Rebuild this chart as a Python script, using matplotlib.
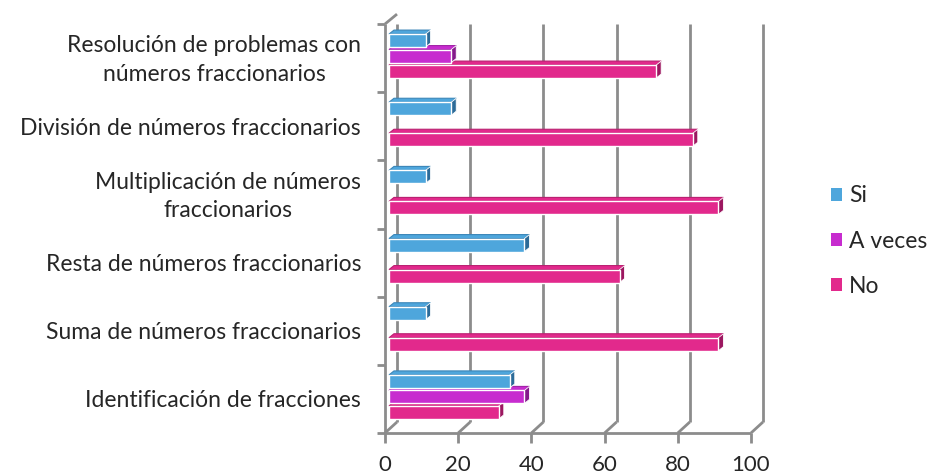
import matplotlib
matplotlib.use("Agg")
import matplotlib.pyplot as plt
from matplotlib.patches import Polygon, Rectangle, Patch

plt.rcParams['font.family'] = ['Lato', 'DejaVu Sans']

categorias = [
    "Identificación de fracciones",
    "Suma de números fraccionarios",
    "Resta de números fraccionarios",
    "Multiplicación de números\nfraccionarios",
    "División de números fraccionarios",
    "Resolución de problemas con\nnúmeros fraccionarios",
]
si = [33, 10, 37, 10, 17, 10]
a_veces = [37, 0, 0, 0, 0, 17]
no = [30, 90, 63, 90, 83, 73]
series = ["Si", "A veces", "No"]
ticks = [0, 20, 40, 60, 80, 100]

frente = {"Si": "#4ea6dc", "A veces": "#c72ccf", "No": "#e2298c"}
lado = {"Si": "#2c6b98", "A veces": "#84198b", "No": "#9c1760"}
borde_sup = {"Si": "#3b86b8", "A veces": "#a023a6", "No": "#b91f70"}
gris = "#8c8c8c"
texto = "#262626"
fs = 16.5

W, H = 934, 474
fig = plt.figure(figsize=(W / 100, H / 100), dpi=100)
# front plane of the box: x 0..100, one unit per category on y
x0_px, x1_px, ybot_px, ytop_px = 385, 751, 433, 24
ax = fig.add_axes([x0_px / W, (H - ybot_px) / H,
                   (x1_px - x0_px) / W, (ybot_px - ytop_px) / H])
ax.set_xlim(0, 100)
ax.set_ylim(0, len(categorias))
ax.set_axis_off()

ppx = (x1_px - x0_px) / 100.0
ppy = (ybot_px - ytop_px) / len(categorias)


def ux(px):
    return px / ppx


def uy(px):
    return px / ppy


# depth offsets (pixels -> data units)
fx, fy = ux(12), uy(11)      # back wall
bx, by = ux(4), uy(2)        # front face of the bars
dx, dy = ux(5), uy(4)        # bar thickness
ny = len(categorias)
kw = dict(clip_on=False, solid_capstyle='butt')

# back wall gridlines
for v in ticks:
    ax.plot([v + fx, v + fx], [fy, ny], color=gris, lw=2, zorder=1, **kw)
    # floor diagonals
    ax.plot([v, v + fx], [0, fy], color=gris, lw=2, zorder=1, **kw)
    # bottom ticks
    ax.plot([v, v], [0, -uy(10)], color=gris, lw=2, zorder=1, **kw)
    ax.text(v, -uy(22), str(v), ha='center', va='top', fontsize=fs - 0.5,
            color=texto)

# floor front edge, left wall
ax.plot([0, 100], [0, 0], color=gris, lw=2, zorder=1, **kw)
ax.plot([0, 0], [0, ny], color=gris, lw=2, zorder=1, **kw)
ax.plot([0, fx], [ny, ny + fy * 0.9], color=gris, lw=2, zorder=1, **kw)
for k in range(ny + 1):
    ax.plot([0, -ux(8)], [k, k], color=gris, lw=2, zorder=1, **kw)

# bars
h = uy(13)
slot = uy(15.5)
offsets = {"Si": slot, "A veces": 0.0, "No": -slot}
valores = {"Si": si, "A veces": a_veces, "No": no}
z = 2
for i in range(ny):
    for s in ["No", "A veces", "Si"]:
        v = valores[s][i]
        if v <= 0:
            continue
        yb = i + 0.5 + offsets[s] - h / 2 + by
        yt = yb + h
        xa, xb = bx, bx + v
        top = Polygon([(xa, yt), (xb, yt), (xb + dx, yt + dy), (xa + dx, yt + dy)],
                      closed=True, facecolor=frente[s], edgecolor=borde_sup[s],
                      lw=0.8, zorder=z, clip_on=False)
        side = Polygon([(xb, yb), (xb, yt), (xb + dx, yt + dy), (xb + dx, yb + dy)],
                       closed=True, facecolor=lado[s], edgecolor='white',
                       lw=0.6, zorder=z + 0.1, clip_on=False)
        front = Rectangle((xa, yb), v, h, facecolor=frente[s], edgecolor='white',
                          lw=1.0, zorder=z + 0.2, clip_on=False)
        ax.add_patch(top)
        ax.add_patch(side)
        ax.add_patch(front)
        z += 1

# category labels
for i, c in enumerate(categorias):
    ax.text(-ux(24), i + 0.5 - uy(2), c, ha='right', va='center',
            multialignment='center', fontsize=fs, color=texto,
            linespacing=1.45)

handles = [Patch(facecolor=frente[s], edgecolor='none') for s in series]
fig.legend(handles, series, loc='center left',
           bbox_to_anchor=(831 / W, (H - 241) / H), frameon=False,
           fontsize=fs, handlelength=0.5, handleheight=0.5, borderpad=0,
           borderaxespad=0, handletextpad=0.3, labelspacing=1.05,
           labelcolor=texto)

fig.savefig("out.png", dpi=100, facecolor='white')
